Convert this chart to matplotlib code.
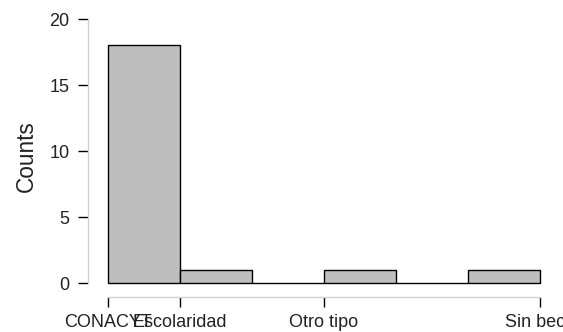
import matplotlib
matplotlib.use("Agg")
import matplotlib.pyplot as plt

# Histogram of scholarship type
bin_edges = [0, 1, 2, 3, 4, 5, 6]
counts = [18, 1, 0, 1, 0, 1]
tick_positions = [0, 1, 3, 6]
tick_labels = ["CONACYT", "Escolaridad", "Otro tipo", "Sin beca"]
y_ticks = [0, 5, 10, 15, 20]

plt.rcParams["font.family"] = ["Liberation Sans", "DejaVu Sans"]

W, H = 563, 332
fig = plt.figure(figsize=(W / 100, H / 100), dpi=100)
ax = fig.add_axes([88 / W, 1 - 297 / H, 1 - 88 / W, (297 - 16) / H])

lefts = bin_edges[:-1]
widths = [b - a for a, b in zip(bin_edges[:-1], bin_edges[1:])]
ax.bar(lefts, counts, width=widths, align="edge", color="#bebebe",
       edgecolor="black", linewidth=1.0)

ax.set_xlim(-0.278, (W - 108) / 72)
ax.set_ylim(-1.06, 20.23)

for s in ("top", "right"):
    ax.spines[s].set_visible(False)
for s in ("left", "bottom"):
    ax.spines[s].set_color("#d0d0d0")
    ax.spines[s].set_linewidth(1.0)
ax.spines["left"].set_bounds(0, 20)
ax.spines["bottom"].set_bounds(0, 6)

ax.set_yticks(y_ticks)
ax.set_xticks(tick_positions)
ax.set_xticklabels(tick_labels)
ax.tick_params(axis="both", colors="black", labelcolor="#222222",
               labelsize=13, width=1.0)
ax.tick_params(axis="y", length=7.5, pad=6)
ax.tick_params(axis="x", length=7, pad=5)
ax.set_ylabel("Counts", fontsize=16.3, labelpad=8, color="#222222")

fig.savefig("out.png", dpi=100)
